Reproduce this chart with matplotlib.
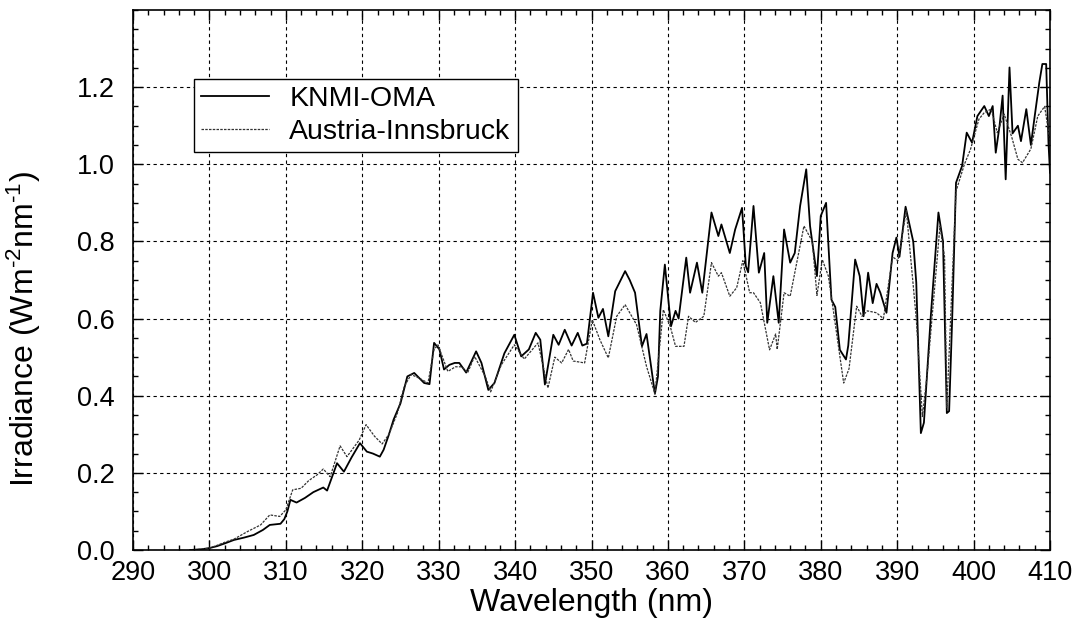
import numpy as np
import matplotlib
matplotlib.use("Agg")
import matplotlib.pyplot as plt

plt.rcParams["font.family"] = ["Liberation Sans", "DejaVu Sans"]
plt.rcParams["mathtext.default"] = "regular"

# KNMI-OMA (solid) - wavelength (nm), irradiance (W m-2 nm-1)
knmi_wl = [297.5, 299, 300, 301, 302, 303.2, 304.5, 305.8, 307, 307.9, 309.3, 309.8, 310.2, 310.6,
           311.4, 312.5, 313.6, 314.9, 315.4, 316.7, 317.6, 318.6, 319.7, 320.6, 321.4, 322.3, 322.8,
           323.5, 324.1, 325, 325.9, 326.8, 327.5, 328.1, 328.8, 329.4, 330.1, 330.7, 331.4, 332.1,
           332.7, 333.6, 334.9, 335.6, 336.5, 337.3, 338.6, 339.9, 340.8, 341.8, 342.7, 343.3, 343.9,
           345.0, 345.7, 346.5, 347.4, 348.2, 348.8, 349.4, 350.2, 350.9, 351.5, 352.2, 353.1, 354.4,
           355.0, 355.7, 356.6, 357.2, 358.1, 358.3, 358.7, 359.0, 359.6, 360.4, 361.0, 361.4, 362.4,
           362.9, 363.8, 364.5, 365.7, 366.6, 367.0, 368.1, 368.8, 369.7, 370.2, 370.5, 371.2, 371.9,
           372.6, 373.0, 373.8, 374.5, 375.2, 376.0, 376.6, 377.3, 378.1, 378.6, 379.5, 380.0, 380.7,
           381.4, 381.9, 382.5, 383.3, 383.6, 384.5, 385.1, 385.6, 386.2, 386.8, 387.3, 387.8, 388.6,
           389.4, 389.9, 390.3, 391.1, 392.1, 392.5, 393.1, 393.5, 394.4, 395.4, 396.0, 396.5, 396.8,
           397.2, 397.7, 398.5, 399.1, 399.8, 400.5, 401.4, 402.0, 402.5, 402.9, 403.4, 403.8, 404.2,
           404.7, 405.1, 405.8, 406.2, 406.9, 407.5, 408.0, 408.6, 409.0, 409.5, 409.8, 410.0]
knmi_irr = [0, 0.002, 0.005, 0.01, 0.017, 0.026, 0.032, 0.039, 0.052, 0.065, 0.068, 0.08, 0.1, 0.13,
            0.123, 0.135, 0.15, 0.162, 0.154, 0.225, 0.203, 0.24, 0.277, 0.255, 0.25, 0.242, 0.26,
            0.30, 0.338, 0.38, 0.45, 0.459, 0.445, 0.433, 0.43, 0.537, 0.52, 0.468, 0.48, 0.485,
            0.485, 0.46, 0.515, 0.485, 0.415, 0.433, 0.51, 0.558, 0.502, 0.52, 0.563, 0.545, 0.429,
            0.558, 0.532, 0.571, 0.53, 0.563, 0.53, 0.535, 0.667, 0.602, 0.625, 0.554, 0.671, 0.723,
            0.70, 0.667, 0.528, 0.56, 0.433, 0.405, 0.45, 0.62, 0.74, 0.58, 0.62, 0.60, 0.758,
            0.667, 0.745, 0.667, 0.875, 0.814, 0.844, 0.77, 0.831, 0.887, 0.736, 0.72, 0.892, 0.719,
            0.77, 0.589, 0.71, 0.589, 0.831, 0.745, 0.77, 0.892, 0.987, 0.84, 0.71, 0.866, 0.9,
            0.649, 0.63, 0.519, 0.494, 0.53, 0.753, 0.71, 0.606, 0.719, 0.64, 0.69, 0.667, 0.615,
            0.77, 0.81, 0.76, 0.89, 0.80, 0.693, 0.303, 0.33, 0.606, 0.875, 0.80, 0.355, 0.36,
            0.60, 0.952, 0.996, 1.082, 1.056, 1.125, 1.151, 1.125, 1.151, 1.03, 1.10, 1.178, 0.961,
            1.251, 1.08, 1.10, 1.06, 1.143, 1.05, 1.125, 1.212, 1.26, 1.26, 1.056, 0.978]

# Austria-Innsbruck (dashed)
ibk_wl = [297.5, 299, 300, 301, 302, 303.2, 305.0, 306.7, 307.9, 309.2, 310.0, 310.9, 312.0, 313.0,
          314.1, 314.9, 315.8, 317.1, 318.0, 319.6, 320.5, 321.6, 322.6, 323.5, 324.6, 325.5, 326.4,
          327.5, 328.6, 329.4, 329.9, 331.2, 332.2, 333.0, 333.8, 334.7, 336.1, 336.8, 338.2, 339.9,
          341.2, 343.0, 344.3, 345.2, 346.1, 347.0, 347.6, 349.1, 350.1, 351.1, 352.2, 353.3, 354.4,
          355.9, 357.2, 358.3, 359.4, 360.3, 361.0, 362.1, 362.7, 363.6, 364.7, 365.7, 366.6, 367.0,
          368.1, 369.0, 369.8, 370.7, 371.2, 372.1, 373.3, 374.1, 374.3, 375.2, 376.0, 377.8, 378.9,
          379.5, 380.2, 381.0, 381.8, 383.0, 383.7, 384.7, 385.4, 386.1, 387.3, 388.2, 389.4, 390.1,
          391.2, 392.5, 393.3, 393.9, 395.6, 396.2, 396.5, 397.7, 398.8, 399.6, 400.7, 401.4, 402.3,
          403.1, 404.0, 405.0, 405.8, 406.4, 407.5, 408.4, 409.3, 410.0]
ibk_irr = [0, 0.002, 0.005, 0.012, 0.02, 0.028, 0.048, 0.065, 0.091, 0.087, 0.104, 0.156, 0.16, 0.18,
           0.195, 0.21, 0.19, 0.27, 0.242, 0.285, 0.325, 0.295, 0.275, 0.30, 0.355, 0.424, 0.455,
           0.445, 0.433, 0.52, 0.532, 0.463, 0.475, 0.475, 0.46, 0.502, 0.45, 0.41, 0.48, 0.532,
           0.495, 0.537, 0.42, 0.50, 0.485, 0.52, 0.49, 0.485, 0.597, 0.545, 0.498, 0.606, 0.636,
           0.584, 0.476, 0.405, 0.623, 0.58, 0.528, 0.528, 0.606, 0.59, 0.606, 0.745, 0.71, 0.719,
           0.658, 0.68, 0.75, 0.667, 0.667, 0.641, 0.519, 0.56, 0.52, 0.667, 0.658, 0.84, 0.80,
           0.66, 0.753, 0.71, 0.60, 0.433, 0.47, 0.632, 0.606, 0.62, 0.615, 0.60, 0.76, 0.75,
           0.88, 0.60, 0.346, 0.45, 0.84, 0.76, 0.37, 0.93, 1.00, 1.039, 1.117, 1.134, 1.143,
           1.082, 1.13, 1.07, 1.013, 1.004, 1.04, 1.125, 1.15, 1.06]

fig = plt.figure(figsize=(10.76, 6.3), dpi=100)
ax = fig.add_axes([133 / 1076, 80 / 630, 917 / 1076, 540 / 630])

ax.plot(knmi_wl, knmi_irr, color="black", lw=1.3, label="KNMI-OMA")
ax.plot(ibk_wl, ibk_irr, color="#333333", lw=0.9, ls=(0, (2, 1)), label="Austria-Innsbruck")

ax.set_xlim(290, 410)
ax.set_ylim(0, 1.4)
ax.set_xticks(np.arange(290, 411, 10))
ax.set_xticks(np.arange(290, 411, 2), minor=True)
ax.set_yticks(np.arange(0, 1.21, 0.2))
ax.set_yticks(np.arange(0, 1.41, 0.05), minor=True)
ax.set_yticklabels(["%.1f" % v for v in np.arange(0, 1.21, 0.2)])

ax.grid(True, which="major", color="black", ls=(0, (3, 3)), lw=0.8)
ax.tick_params(which="both", direction="in", top=True, right=True, labelsize=19.5, width=1)
ax.tick_params(which="major", length=7)
ax.tick_params(which="minor", length=3.5)
ax.tick_params(axis="x", pad=7)
ax.tick_params(axis="y", pad=13)
for s in ax.spines.values():
    s.set_linewidth(1.2)

ax.set_xlabel("Wavelength (nm)", fontsize=23, labelpad=2)
ax.set_ylabel("Irradiance (Wm$^{\u20102}$nm$^{\u20101}$)", fontsize=23)
ax.yaxis.set_label_coords(-0.098, 0.41)

leg = ax.legend(loc="upper left", bbox_to_anchor=(0.0665, 0.872), fontsize=20.5, frameon=True,
                fancybox=False, framealpha=1, edgecolor="black", handlelength=2.4,
                handletextpad=0.7, labelspacing=0.25, borderpad=0.25, borderaxespad=0)
leg.get_frame().set_linewidth(1.0)

fig.savefig("out.png", dpi=100)
